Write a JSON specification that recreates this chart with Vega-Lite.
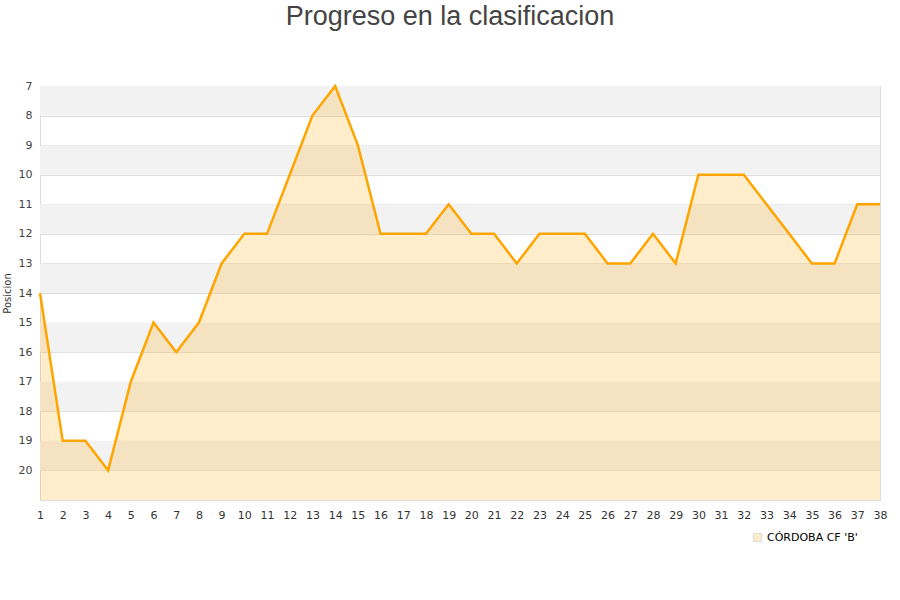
{
  "$schema": "https://vega.github.io/schema/vega-lite/v6.json",
  "width": 840,
  "height": 414,
  "autosize": {"type": "none"},
  "padding": {"left": 40, "top": 86, "right": 20, "bottom": 100},
  "background": "white",
  "title": {
    "text": "Progreso en la clasificacion",
    "font": "Liberation Sans",
    "fontSize": 27,
    "fontWeight": "normal",
    "color": "#444444",
    "anchor": "middle",
    "dx": -10,
    "offset": 49
  },
  "config": {
    "view": {"stroke": "#dddddd", "strokeWidth": 1},
    "axis": {"labelFont": "DejaVu Sans", "titleFont": "DejaVu Sans", "labelOverlap": false}
  },
  "datasets": {
    "bands": [
      {"desde": 7, "hasta": 8},
      {"desde": 9, "hasta": 10},
      {"desde": 11, "hasta": 12},
      {"desde": 13, "hasta": 14},
      {"desde": 15, "hasta": 16},
      {"desde": 17, "hasta": 18},
      {"desde": 19, "hasta": 20}
    ],
    "progreso": [
      {"jornada": 1, "posicion": 14, "equipo": "CÓRDOBA CF 'B'"},
      {"jornada": 2, "posicion": 19, "equipo": "CÓRDOBA CF 'B'"},
      {"jornada": 3, "posicion": 19, "equipo": "CÓRDOBA CF 'B'"},
      {"jornada": 4, "posicion": 20, "equipo": "CÓRDOBA CF 'B'"},
      {"jornada": 5, "posicion": 17, "equipo": "CÓRDOBA CF 'B'"},
      {"jornada": 6, "posicion": 15, "equipo": "CÓRDOBA CF 'B'"},
      {"jornada": 7, "posicion": 16, "equipo": "CÓRDOBA CF 'B'"},
      {"jornada": 8, "posicion": 15, "equipo": "CÓRDOBA CF 'B'"},
      {"jornada": 9, "posicion": 13, "equipo": "CÓRDOBA CF 'B'"},
      {"jornada": 10, "posicion": 12, "equipo": "CÓRDOBA CF 'B'"},
      {"jornada": 11, "posicion": 12, "equipo": "CÓRDOBA CF 'B'"},
      {"jornada": 12, "posicion": 10, "equipo": "CÓRDOBA CF 'B'"},
      {"jornada": 13, "posicion": 8, "equipo": "CÓRDOBA CF 'B'"},
      {"jornada": 14, "posicion": 7, "equipo": "CÓRDOBA CF 'B'"},
      {"jornada": 15, "posicion": 9, "equipo": "CÓRDOBA CF 'B'"},
      {"jornada": 16, "posicion": 12, "equipo": "CÓRDOBA CF 'B'"},
      {"jornada": 17, "posicion": 12, "equipo": "CÓRDOBA CF 'B'"},
      {"jornada": 18, "posicion": 12, "equipo": "CÓRDOBA CF 'B'"},
      {"jornada": 19, "posicion": 11, "equipo": "CÓRDOBA CF 'B'"},
      {"jornada": 20, "posicion": 12, "equipo": "CÓRDOBA CF 'B'"},
      {"jornada": 21, "posicion": 12, "equipo": "CÓRDOBA CF 'B'"},
      {"jornada": 22, "posicion": 13, "equipo": "CÓRDOBA CF 'B'"},
      {"jornada": 23, "posicion": 12, "equipo": "CÓRDOBA CF 'B'"},
      {"jornada": 24, "posicion": 12, "equipo": "CÓRDOBA CF 'B'"},
      {"jornada": 25, "posicion": 12, "equipo": "CÓRDOBA CF 'B'"},
      {"jornada": 26, "posicion": 13, "equipo": "CÓRDOBA CF 'B'"},
      {"jornada": 27, "posicion": 13, "equipo": "CÓRDOBA CF 'B'"},
      {"jornada": 28, "posicion": 12, "equipo": "CÓRDOBA CF 'B'"},
      {"jornada": 29, "posicion": 13, "equipo": "CÓRDOBA CF 'B'"},
      {"jornada": 30, "posicion": 10, "equipo": "CÓRDOBA CF 'B'"},
      {"jornada": 31, "posicion": 10, "equipo": "CÓRDOBA CF 'B'"},
      {"jornada": 32, "posicion": 10, "equipo": "CÓRDOBA CF 'B'"},
      {"jornada": 33, "posicion": 11, "equipo": "CÓRDOBA CF 'B'"},
      {"jornada": 34, "posicion": 12, "equipo": "CÓRDOBA CF 'B'"},
      {"jornada": 35, "posicion": 13, "equipo": "CÓRDOBA CF 'B'"},
      {"jornada": 36, "posicion": 13, "equipo": "CÓRDOBA CF 'B'"},
      {"jornada": 37, "posicion": 11, "equipo": "CÓRDOBA CF 'B'"},
      {"jornada": 38, "posicion": 11, "equipo": "CÓRDOBA CF 'B'"}
    ]
  },
  "layer": [
    {
      "data": {"name": "bands"},
      "mark": {"type": "rect", "fill": "#f2f2f2"},
      "encoding": {
        "x": {"datum": 1, "type": "quantitative", "scale": {"domain": [1, 38], "nice": false, "zero": false},
          "axis": {"title": null, "values": [1,2,3,4,5,6,7,8,9,10,11,12,13,14,15,16,17,18,19,20,21,22,23,24,25,26,27,28,29,30,31,32,33,34,35,36,37,38],
            "format": "d", "tickCount": 50, "grid": false, "domain": false, "ticks": false, "labelOverlap": false, "labelFontSize": 11, "labelColor": "#333333", "labelPadding": 9, "labelFlush": false}},
        "x2": {"datum": 38},
        "y": {"field": "desde", "type": "quantitative", "scale": {"domain": [7, 21], "reverse": true, "zero": false, "nice": false},
          "axis": {"title": "Posicion", "values": [7,8,9,10,11,12,13,14,15,16,17,18,19,20],
            "format": "d", "tickCount": 50, "grid": true, "gridColor": "#dddddd", "domain": false, "ticks": false, "labelOverlap": false,
            "labelFontSize": 11, "labelColor": "#444444", "labelPadding": 8, "labelBaseline": "middle",
            "titleFontSize": 10, "titleFontWeight": "normal", "titleColor": "#333333", "titlePadding": 6}},
        "y2": {"field": "hasta"}
      }
    },
    {
      "data": {"name": "progreso"},
      "mark": {"type": "area", "opacity": 0.2, "interpolate": "linear"},
      "encoding": {
        "x": {"field": "jornada", "type": "quantitative"},
        "y": {"field": "posicion", "type": "quantitative"},
        "y2": {"datum": 21},
        "fill": {"field": "equipo", "type": "nominal",
          "scale": {"range": ["#ffa500"]},
          "legend": {"title": null, "orient": "none", "legendX": 712, "legendY": 446,
            "symbolType": "square", "symbolSize": 64,
            "symbolStrokeColor": "#555555", "symbolStrokeWidth": 1,
            "labelFont": "DejaVu Sans", "labelFontSize": 11, "labelColor": "#000000",
            "encode": {"symbols": {
              "enter": {"fill": {"value": "#f7e3c3"}, "stroke": {"value": "#666666"}, "strokeWidth": {"value": 1}, "opacity": {"value": 1}, "strokeOpacity": {"value": 1}, "fillOpacity": {"value": 1}},
              "update": {"fill": {"value": "#f7e3c3"}, "stroke": {"value": "#666666"}, "strokeWidth": {"value": 1}, "opacity": {"value": 1}, "strokeOpacity": {"value": 1}, "fillOpacity": {"value": 1}}}}}}
      }
    },
    {
      "data": {"name": "progreso"},
      "mark": {"type": "line", "color": "#ffa500", "strokeWidth": 2.5},
      "encoding": {
        "x": {"field": "jornada", "type": "quantitative"},
        "y": {"field": "posicion", "type": "quantitative"}
      }
    }
  ]
}
